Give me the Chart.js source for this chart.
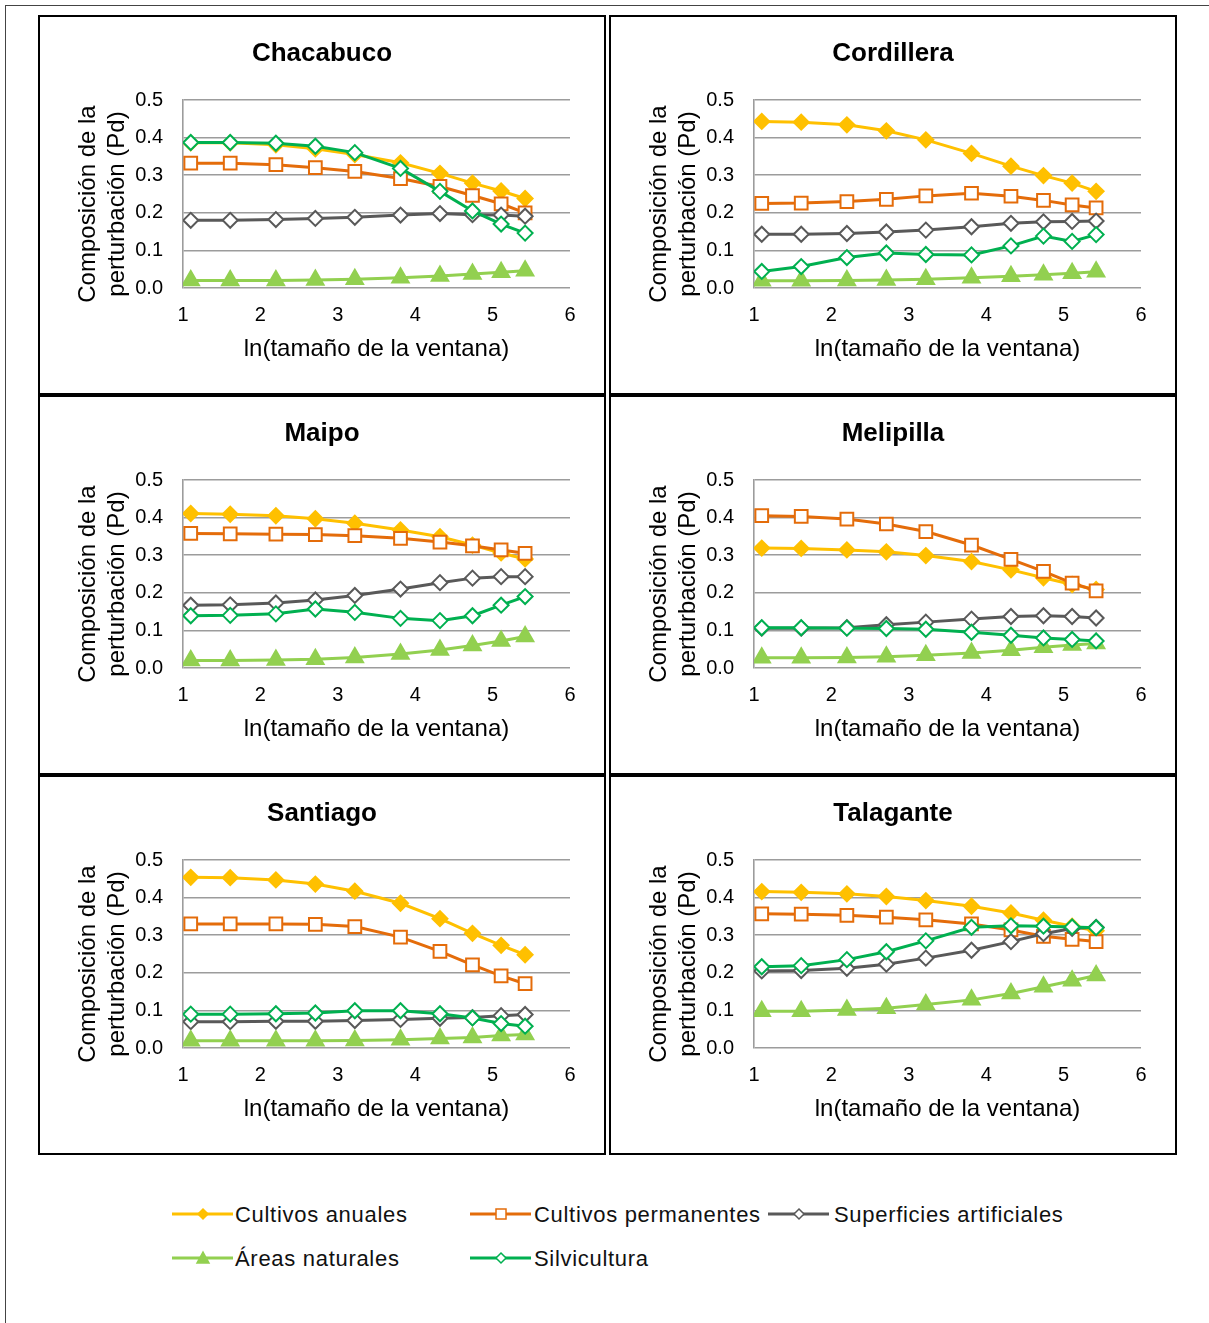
<!DOCTYPE html>
<html>
<head>
<meta charset="utf-8">
<script src="https://cdn.jsdelivr.net/npm/chart.js@4.4.0/dist/chart.umd.min.js"></script>
<style>
  html, body { margin: 0; padding: 0; background: #fff; overflow: hidden; }
  body { width: 1209px; height: 1323px; position: relative; font-family: Arial, "Liberation Sans", sans-serif; }
  #frame { position: absolute; left: 5px; top: 5px; width: 1240px; height: 1350px; border: 1px solid #444; }
  .panel { position: absolute; width: 564px; height: 376px; border: 2px solid #000; background: #fff; }
  .panel canvas { display: block; }
  .lg-mark { position: absolute; width: 62px; height: 20px; }
  .lg-text { position: absolute; font-size: 22px; line-height: 22px; letter-spacing: 0.7px; color: #111; white-space: nowrap; }
</style>
</head>
<body>
<div id="frame"></div>
<div id="panels"></div>
<div id="legend"></div>

<script>
// ln(tamaño de la ventana) for the ten window sizes
const lnWindow = [1.10, 1.61, 2.20, 2.71, 3.22, 3.81, 4.32, 4.74, 5.11, 5.42];

const xTicks = [1, 2, 3, 4, 5, 6];
const yTicks = [0.0, 0.1, 0.2, 0.3, 0.4, 0.5];

const seriesNames = ['Cultivos anuales', 'Cultivos permanentes', 'Superficies artificiales', 'Áreas naturales', 'Silvicultura'];
const provinces = ['Chacabuco', 'Cordillera', 'Maipo', 'Melipilla', 'Santiago', 'Talagante'];
const xTitle = 'ln(tamaño de la ventana)';
const yTitle = ['Composición de la', 'perturbación (Pd)'];

// Chacabuco
const chacabucoAnuales      = [0.386, 0.386, 0.381, 0.370, 0.355, 0.333, 0.305, 0.279, 0.258, 0.238];
const chacabucoPermanentes  = [0.332, 0.332, 0.328, 0.320, 0.310, 0.291, 0.270, 0.246, 0.224, 0.200];
const chacabucoArtificiales = [0.180, 0.180, 0.182, 0.185, 0.188, 0.194, 0.198, 0.195, 0.194, 0.191];
const chacabucoNaturales    = [0.020, 0.020, 0.020, 0.021, 0.023, 0.027, 0.032, 0.037, 0.042, 0.046];
const chacabucoSilvicultura = [0.387, 0.387, 0.385, 0.377, 0.360, 0.318, 0.257, 0.205, 0.170, 0.146];

// Cordillera
const cordilleraAnuales      = [0.443, 0.441, 0.434, 0.418, 0.394, 0.358, 0.324, 0.299, 0.279, 0.257];
const cordilleraPermanentes  = [0.225, 0.226, 0.230, 0.236, 0.245, 0.252, 0.244, 0.233, 0.221, 0.213];
const cordilleraArtificiales = [0.143, 0.143, 0.145, 0.149, 0.154, 0.163, 0.172, 0.176, 0.177, 0.178];
const cordilleraNaturales    = [0.019, 0.019, 0.020, 0.021, 0.023, 0.027, 0.031, 0.035, 0.039, 0.043];
const cordilleraSilvicultura = [0.044, 0.057, 0.081, 0.093, 0.089, 0.088, 0.112, 0.138, 0.124, 0.142];

// Maipo
const maipoAnuales      = [0.411, 0.409, 0.405, 0.397, 0.385, 0.367, 0.349, 0.327, 0.306, 0.290];
const maipoPermanentes  = [0.358, 0.357, 0.356, 0.355, 0.352, 0.345, 0.335, 0.325, 0.314, 0.305];
const maipoArtificiales = [0.167, 0.168, 0.173, 0.181, 0.193, 0.210, 0.227, 0.239, 0.243, 0.243];
const maipoNaturales    = [0.020, 0.020, 0.021, 0.023, 0.028, 0.037, 0.048, 0.060, 0.072, 0.084];
const maipoSilvicultura = [0.139, 0.140, 0.144, 0.157, 0.148, 0.132, 0.126, 0.139, 0.167, 0.190];

// Melipilla
const melipillaAnuales      = [0.319, 0.318, 0.314, 0.309, 0.299, 0.283, 0.261, 0.240, 0.222, 0.209];
const melipillaPermanentes  = [0.405, 0.403, 0.396, 0.383, 0.363, 0.327, 0.289, 0.257, 0.226, 0.205];
const melipillaArtificiales = [0.106, 0.106, 0.107, 0.115, 0.122, 0.130, 0.137, 0.139, 0.137, 0.133];
const melipillaNaturales    = [0.027, 0.027, 0.028, 0.030, 0.034, 0.040, 0.047, 0.055, 0.061, 0.065];
const melipillaSilvicultura = [0.107, 0.107, 0.106, 0.105, 0.103, 0.095, 0.087, 0.080, 0.076, 0.072];

// Santiago
const santiagoAnuales      = [0.454, 0.453, 0.447, 0.436, 0.417, 0.385, 0.344, 0.305, 0.273, 0.248];
const santiagoPermanentes  = [0.330, 0.330, 0.330, 0.329, 0.323, 0.295, 0.257, 0.221, 0.192, 0.171];
const santiagoArtificiales = [0.070, 0.070, 0.071, 0.071, 0.073, 0.076, 0.079, 0.081, 0.086, 0.089];
const santiagoNaturales    = [0.019, 0.019, 0.019, 0.019, 0.020, 0.022, 0.025, 0.028, 0.033, 0.036];
const santiagoSilvicultura = [0.090, 0.090, 0.091, 0.093, 0.099, 0.099, 0.091, 0.080, 0.065, 0.058];

// Talagante
const talaganteAnuales      = [0.416, 0.414, 0.410, 0.403, 0.392, 0.377, 0.359, 0.340, 0.324, 0.312];
const talagantePermanentes  = [0.357, 0.356, 0.353, 0.348, 0.341, 0.330, 0.314, 0.297, 0.289, 0.283];
const talaganteArtificiales = [0.205, 0.206, 0.212, 0.223, 0.239, 0.260, 0.283, 0.304, 0.318, 0.321];
const talaganteNaturales    = [0.098, 0.098, 0.101, 0.106, 0.116, 0.128, 0.145, 0.163, 0.179, 0.193];
const talaganteSilvicultura = [0.216, 0.219, 0.235, 0.256, 0.285, 0.321, 0.325, 0.324, 0.322, 0.320];

const provinceSeries = [
  [chacabucoAnuales, chacabucoPermanentes, chacabucoArtificiales, chacabucoNaturales, chacabucoSilvicultura],
  [cordilleraAnuales, cordilleraPermanentes, cordilleraArtificiales, cordilleraNaturales, cordilleraSilvicultura],
  [maipoAnuales, maipoPermanentes, maipoArtificiales, maipoNaturales, maipoSilvicultura],
  [melipillaAnuales, melipillaPermanentes, melipillaArtificiales, melipillaNaturales, melipillaSilvicultura],
  [santiagoAnuales, santiagoPermanentes, santiagoArtificiales, santiagoNaturales, santiagoSilvicultura],
  [talaganteAnuales, talagantePermanentes, talaganteArtificiales, talaganteNaturales, talaganteSilvicultura]
];

// Series styling
const seriesStyle = [
  { color: '#FFC000', point: 'rectRot',  radius: 7.5, fill: '#FFC000', lw: 3 },
  { color: '#E46C0A', point: 'rect',     radius: 9,   fill: '#FFFFFF', lw: 3 },
  { color: '#595959', point: 'rectRot',  radius: 7.5, fill: '#FFFFFF', lw: 3 },
  { color: '#92D050', point: 'triangle', radius: 9.5, fill: '#92D050', lw: 3 },
  { color: '#00B050', point: 'rectRot',  radius: 7.5, fill: '#FFFFFF', lw: 3 }
];

const FONT = 'Arial, "Liberation Sans", sans-serif';
const GRID = '#9c9c9c';

// Panel heading and the two-line rotated y-axis caption
const panelText = {
  id: 'panelText',
  afterDraw(chart, args, opts) {
    const { ctx, chartArea } = chart;
    ctx.save();
    ctx.fillStyle = '#000';
    ctx.textAlign = 'center';
    ctx.textBaseline = 'middle';
    ctx.font = 'bold 26px ' + FONT;
    ctx.fillText(opts.title, chart.width / 2, 37);
    ctx.font = '24px ' + FONT;
    const cy = (chartArea.top + chartArea.bottom) / 2 + 10;
    opts.yTitle.forEach((line, i) => {
      ctx.save();
      ctx.translate(48 + i * 29, cy);
      ctx.rotate(-Math.PI / 2);
      ctx.fillText(line, 0, 0);
      ctx.restore();
    });
    ctx.restore();
  }
};

const panelLefts = [38, 609];
const panelTops = [15, 395, 775];

const panelsHost = document.getElementById('panels');

provinces.forEach((name, idx) => {
  const div = document.createElement('div');
  div.className = 'panel';
  div.style.left = panelLefts[idx % 2] + 'px';
  div.style.top = panelTops[Math.floor(idx / 2)] + 'px';
  const canvas = document.createElement('canvas');
  canvas.width = 564;
  canvas.height = 376;
  div.appendChild(canvas);
  panelsHost.appendChild(div);

  const datasets = seriesNames.map((label, s) => {
    const st = seriesStyle[s];
    return {
      label,
      data: lnWindow.map((x, i) => ({ x, y: provinceSeries[idx][s][i] })),
      borderColor: st.color,
      backgroundColor: st.color,
      borderWidth: st.lw,
      pointStyle: st.point,
      pointRadius: st.radius,
      pointHoverRadius: st.radius,
      pointBackgroundColor: st.fill,
      pointBorderColor: st.color,
      pointBorderWidth: 2,
      tension: 0,
      showLine: true,
      fill: false,
      order: seriesNames.length - s
    };
  });

  new Chart(canvas, {
    type: 'scatter',
    data: { datasets },
    plugins: [panelText],
    options: {
      responsive: false,
      animation: false,
      events: [],
      layout: { padding: { left: 0, right: 34, top: 83, bottom: 0 } },
      plugins: {
        legend: { display: false },
        tooltip: { enabled: false },
        title: { display: false },
        panelText: { title: name, yTitle: yTitle }
      },
      scales: {
        x: {
          type: 'linear',
          min: xTicks[0],
          max: xTicks[xTicks.length - 1],
          afterBuildTicks: (scale) => { scale.ticks = xTicks.map(v => ({ value: v })); },
          afterFit: (scale) => { scale.height = 105; },
          ticks: {
            color: '#000',
            font: { family: FONT, size: 20, lineHeight: 1.2 },
            padding: 15,
            maxRotation: 0,
            callback: (v) => String(v)
          },
          grid: { display: false, drawTicks: false },
          border: { display: false },
          title: {
            display: true,
            text: xTitle,
            color: '#000',
            font: { family: FONT, size: 24, lineHeight: 1.2 },
            padding: { top: 0, bottom: 29.6 }
          }
        },
        y: {
          type: 'linear',
          min: yTicks[0],
          max: yTicks[yTicks.length - 1],
          afterBuildTicks: (scale) => { scale.ticks = yTicks.map(v => ({ value: v })); },
          afterFit: (scale) => { scale.width = 143; },
          ticks: {
            color: '#000',
            font: { family: FONT, size: 20, lineHeight: 1.2 },
            padding: 20,
            callback: (v) => Number(v).toFixed(1)
          },
          grid: { color: GRID, lineWidth: 1.6, drawTicks: false },
          border: { display: true, color: GRID, width: 1.6 },
          title: { display: false }
        }
      }
    }
  });
});

// Shared legend under the panels
const legendItems = [
  { s: 0, left: 172, cy: 1214, textLeft: 235 },
  { s: 1, left: 470, cy: 1214, textLeft: 534 },
  { s: 2, left: 768, cy: 1214, textLeft: 834 },
  { s: 3, left: 172, cy: 1258, textLeft: 235 },
  { s: 4, left: 470, cy: 1258, textLeft: 534 }
];
const legendHost = document.getElementById('legend');
const NS = 'http://www.w3.org/2000/svg';
legendItems.forEach(it => {
  const st = seriesStyle[it.s];
  const svg = document.createElementNS(NS, 'svg');
  svg.setAttribute('class', 'lg-mark');
  svg.setAttribute('width', '62');
  svg.setAttribute('height', '20');
  svg.style.left = it.left + 'px';
  svg.style.top = (it.cy - 10) + 'px';
  const line = document.createElementNS(NS, 'line');
  line.setAttribute('x1', '0'); line.setAttribute('x2', '61');
  line.setAttribute('y1', '10'); line.setAttribute('y2', '10');
  line.setAttribute('stroke', st.color); line.setAttribute('stroke-width', '3');
  svg.appendChild(line);
  let mark;
  if (st.point === 'rect') {
    mark = document.createElementNS(NS, 'rect');
    mark.setAttribute('x', '26'); mark.setAttribute('y', '5');
    mark.setAttribute('width', '10'); mark.setAttribute('height', '10');
  } else if (st.point === 'triangle') {
    mark = document.createElementNS(NS, 'polygon');
    mark.setAttribute('points', '31,4 37,15 25,15');
  } else {
    mark = document.createElementNS(NS, 'polygon');
    mark.setAttribute('points', '31,5 36,10 31,15 26,10');
  }
  mark.setAttribute('fill', st.fill);
  mark.setAttribute('stroke', st.color);
  mark.setAttribute('stroke-width', '1.5');
  svg.appendChild(mark);
  legendHost.appendChild(svg);

  const span = document.createElement('div');
  span.className = 'lg-text';
  span.style.left = it.textLeft + 'px';
  span.style.top = (it.cy - 10) + 'px';
  span.textContent = seriesNames[it.s];
  legendHost.appendChild(span);
});
</script>
</body>
</html>
